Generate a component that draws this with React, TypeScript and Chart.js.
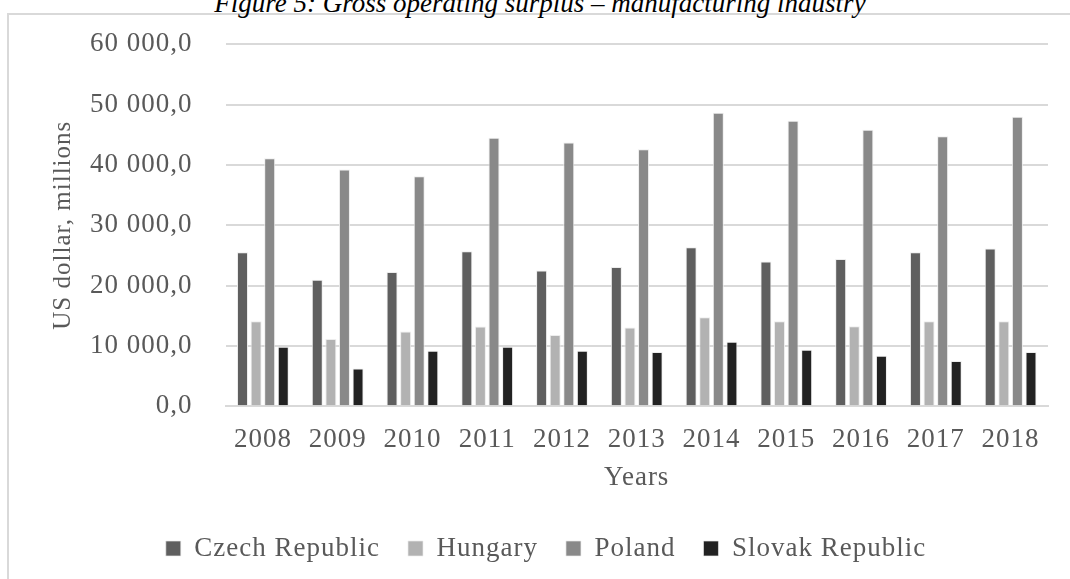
import React, { useEffect, useRef } from "react";
import { Chart, registerables } from "chart.js";

Chart.register(...registerables);

const years = ["2008", "2009", "2010", "2011", "2012", "2013", "2014", "2015", "2016", "2017", "2018"];
const czechRepublic = [25500, 20940, 22260, 25670, 22480, 23090, 26330, 23970, 24410, 25500, 26120];
const hungary = [14100, 11130, 12400, 13220, 11790, 13060, 14760, 14100, 13270, 14100, 14100];
const poland = [41100, 39230, 38130, 44510, 43690, 42590, 48650, 47330, 45840, 44740, 47990];
const slovakRepublic = [9870, 6230, 9200, 9870, 9200, 8980, 10690, 9370, 8380, 7490, 8980];
const yTickValues = [0, 10000, 20000, 30000, 40000, 50000, 60000];

const FONT = "'Liberation Serif', 'Times New Roman', serif";
const TEXT = "#595959";

function fmt(v: number): string {
  const s = Math.round(v).toString().replace(/\B(?=(\d{3})+(?!\d))/g, " ");
  return s + ",0";
}

const spacingPlugin = {
  id: "letterSpacing",
  beforeUpdate(chart: any) {
    chart.ctx.letterSpacing = "1px";
  },
  beforeDraw(chart: any) {
    chart.ctx.letterSpacing = "1px";
  },
};

export default function App() {
  const ref = useRef<HTMLCanvasElement | null>(null);

  useEffect(() => {
    document.body.style.margin = "0";
    if (!ref.current) return;
    const chart = new Chart(ref.current, {
      type: "bar",
      data: {
        labels: years,
        datasets: [
          { label: "Czech Republic", data: czechRepublic, backgroundColor: "#5f5f5f" },
          { label: "Hungary", data: hungary, backgroundColor: "#b2b2b2" },
          { label: "Poland", data: poland, backgroundColor: "#898989" },
          { label: "Slovak Republic", data: slovakRepublic, backgroundColor: "#222222" },
        ].map((d) => ({
          ...d,
          borderColor: "rgba(235,235,235,0.9)",
          borderWidth: { top: 1, left: 1, right: 1, bottom: 0 },
          categoryPercentage: 0.727,
          barPercentage: 0.81,
        })),
      },
      plugins: [spacingPlugin],
      options: {
        responsive: false,
        animation: false,
        layout: { padding: { left: 44, right: 22, top: 22, bottom: 7 } },
        plugins: {
          title: { display: false },
          tooltip: { enabled: false },
          legend: {
            position: "bottom",
            labels: {
              font: { family: FONT, size: 27 },
              color: TEXT,
              boxWidth: 15,
              boxHeight: 15,
              padding: 28,
            },
          },
        },
        scales: {
          x: {
            grid: { display: false },
            border: { display: true, color: "#d9d9d9", width: 2 },
            ticks: { font: { family: FONT, size: 27 }, color: TEXT, padding: 10 },
            title: {
              display: true,
              text: "Years",
              font: { family: FONT, size: 27 },
              color: TEXT,
              padding: { top: -5, bottom: 13 },
            },
          },
          y: {
            min: 0,
            max: 60000,
            afterBuildTicks: (axis: any) => {
              axis.ticks = yTickValues.map((v) => ({ value: v }));
            },
            grid: { color: "#d9d9d9", lineWidth: 2, drawTicks: false },
            border: { display: false },
            ticks: {
              font: { family: FONT, size: 27 },
              color: TEXT,
              padding: 33,
              callback: (v: any) => fmt(Number(v)),
            },
            title: {
              display: true,
              text: "US dollar, millions",
              font: { family: FONT, size: 25 },
              color: TEXT,
              padding: { top: 4, bottom: -21 },
            },
          },
        },
      },
    });
    return () => chart.destroy();
  }, []);

  return (
    <div style={{ position: "absolute", left: 0, top: 0, width: 1070, height: 579, overflow: "hidden", background: "#fff" }}>
      <div
        style={{
          position: "absolute",
          left: 7,
          top: 13,
          width: 1200,
          height: 700,
          borderLeft: "2px solid #d9d9d9",
          borderTop: "2px solid #d9d9d9",
        }}
      />
      <div
        style={{
          position: "absolute",
          left: 0,
          width: 1080,
          top: -12,
          textAlign: "center",
          fontFamily: FONT,
          fontStyle: "italic",
          fontSize: 27,
          lineHeight: "30px",
          color: "#000",
        }}
      >
        Figure 5: Gross operating surplus – manufacturing industry
      </div>
      <canvas ref={ref} width={1070} height={584} style={{ position: "absolute", left: 0, top: -5 }} />
    </div>
  );
}
